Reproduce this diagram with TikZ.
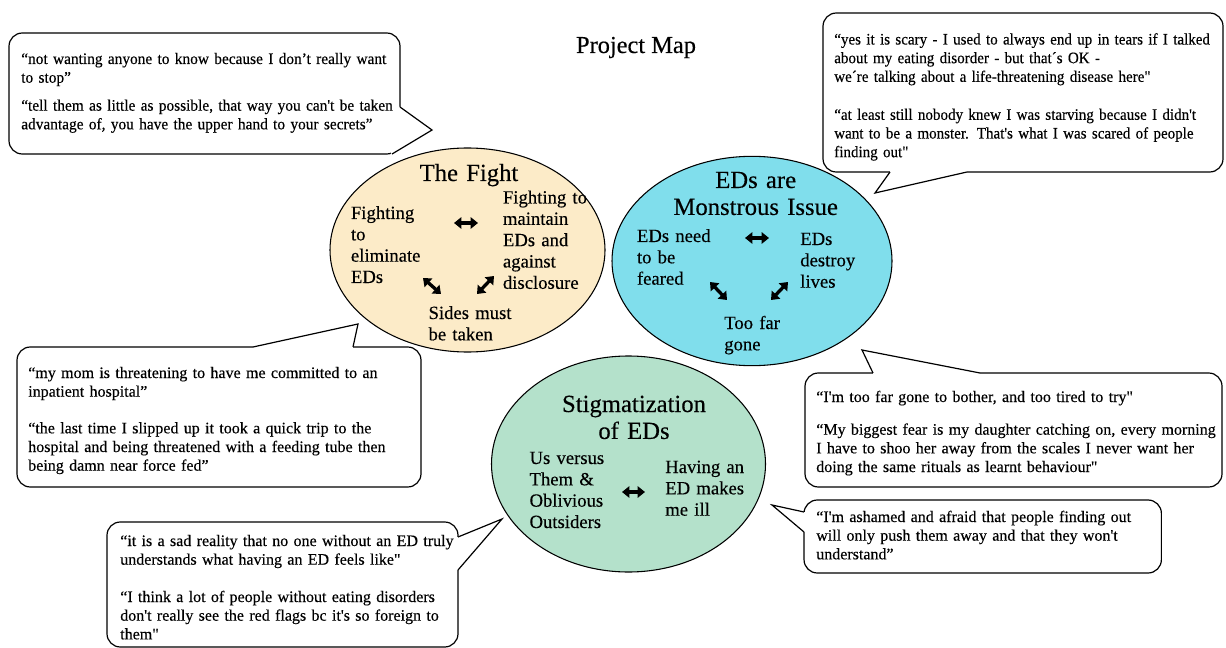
\documentclass[tikz,border=0pt]{standalone}
\usepackage{fontspec}
\setmainfont{Liberation Serif}[Ligatures=TeXOff,FakeBold=0.3]
\newfontfamily\narrowserif{Liberation Serif}[Ligatures=TeXOff,FakeBold=0.3,FakeStretch=0.94]
\newfontfamily\slimserif{Liberation Serif}[Ligatures=TeXOff,FakeBold=0.3,FakeStretch=0.96]
\usetikzlibrary{shapes.geometric,arrows.meta}
\definecolor{fightfill}{RGB}{252,235,200}
\definecolor{monsterfill}{RGB}{128,222,236}
\definecolor{stigmafill}{RGB}{180,225,203}
\begin{document}
\begin{tikzpicture}[x=0.75pt,y=-0.75pt,
  bubble/.style={draw=black, line width=0.9pt, fill=white, rounded corners=10pt, inner sep=0pt},
  quote/.style={anchor=base west, inner sep=0pt, align=left, text width=330pt, font=\fontsize{12}{14}\selectfont},
  blob/.style={ellipse, draw=black, line width=0.8pt, inner sep=0pt},
  theme/.style={anchor=base west, inner sep=0pt, align=left, text width=90pt, font=\fontsize{14}{16}\selectfont},
  head/.style={anchor=base, inner sep=0pt, align=center, text width=170pt, font=\fontsize{18.5}{20.2}\selectfont},
  dbl/.style={{Triangle[length=5.5pt,width=8.5pt]}-{Triangle[length=5.5pt,width=8.5pt]}, line width=2.5pt},
  tailside/.style={draw=black, line width=0.9pt, line join=miter},
  tailcover/.style={draw=white, line width=1.8pt},
]
\useasboundingbox (0,0) rectangle (1226,648);
\fill[white] (0,0) rectangle (1226,648);

% title
\node[anchor=base, inner sep=0pt, font=\fontsize{18.3}{20}\selectfont] (title) at (636,53) {Project Map};

% ellipses
\node[blob, fill=fightfill, minimum width=206.25pt, minimum height=153pt] (fight) at (467.5,250) {};
\node[blob, fill=monsterfill, minimum width=210pt, minimum height=157pt] (monster) at (752,261) {};
\node[blob, fill=stigmafill, minimum width=205.5pt, minimum height=162pt] (stigma) at (628.5,464) {};

% ellipse contents
\node[head] (fighthead) at (469,181) {The Fight};
\node[theme] (fightL) at (350.7,219) {Fighting\\to\\eliminate\\EDs};
\node[theme] (fightR) at (502.7,203.5) {Fighting to\\maintain\\EDs and\\against\\disclosure};
\node[theme] (fightB) at (428.3,319) {Sides must\\be taken};
\coordinate (fa1) at (454,223); \coordinate (fa2) at (478,223);
\coordinate (fb1) at (423,278); \coordinate (fb2) at (441,294);
\coordinate (fc1) at (477,294); \coordinate (fc2) at (494,276);
\draw[dbl] (fa1) -- (fa2);
\draw[dbl] (fb1) -- (fb2);
\draw[dbl] (fc1) -- (fc2);

\node[head] (monsterhead) at (755.7,188) {EDs are\\Monstrous Issue};
\node[theme] (monsterL) at (636.7,242) {EDs need\\to be\\feared};
\node[theme] (monsterR) at (800,245) {EDs\\destroy\\lives};
\node[theme] (monsterB) at (724,329) {Too far\\gone};
\coordinate (ma1) at (745,238); \coordinate (ma2) at (769,238);
\coordinate (mb1) at (710,282); \coordinate (mb2) at (727,300);
\coordinate (mc1) at (771,300); \coordinate (mc2) at (788,282);
\draw[dbl] (ma1) -- (ma2);
\draw[dbl] (mb1) -- (mb2);
\draw[dbl] (mc1) -- (mc2);

\node[head] (stigmahead) at (634,412) {Stigmatization\\of EDs};
\node[theme] (stigmaL) at (529.3,464) {Us versus\\Them \&\\Oblivious\\Outsiders};
\node[theme] (stigmaR) at (665,473) {Having an\\ED makes\\me ill};
\coordinate (sa1) at (622,492); \coordinate (sa2) at (645,492);
\draw[dbl] (sa1) -- (sa2);

% callout 1
\node[bubble, minimum width=293.25pt, minimum height=90.75pt] (c1) at (204.5,93.5) {};
\coordinate (c1a) at (400,107); \coordinate (c1t) at (432,130); \coordinate (c1b) at (392,154);
\fill[white] (c1a) -- (c1t) -- (c1b) -- cycle;
\draw[tailcover] (c1a) -- (c1b);
\draw[tailside] (c1a) -- (c1t) -- (c1b);
\node[quote, font=\slimserif\fontsize{12}{14}\selectfont] (q1) at (21,64) {“not wanting anyone to know because I don’t really want\\to stop”\\[7pt]“tell them as little as possible, that way you can't be taken\\advantage of, you have the upper hand to your secrets”};

% callout 2
\node[bubble, minimum width=300pt, minimum height=119.25pt] (c2) at (1023,92.5) {};
\coordinate (c2a) at (890,172); \coordinate (c2t) at (875,193); \coordinate (c2b) at (967,172);
\fill[white] (c2a) -- (c2t) -- (c2b) -- cycle;
\draw[tailcover] (c2a) -- (c2b);
\draw[tailside] (c2a) -- (c2t) -- (c2b);
\node[quote, font=\narrowserif\fontsize{12}{14}\selectfont] (q2) at (834,44.5) {“yes it is scary - I used to always end up in tears if I talked\\about my eating disorder - but that´s OK -\\we´re talking about a life-threatening disease here"\\[14.5pt]“at least still nobody knew I was starving because I didn't\\want to be a monster. That's what I was scared of people\\finding out"};

% callout 3
\node[bubble, minimum width=303pt, minimum height=105pt] (c3) at (219,417) {};
\coordinate (c3a) at (253,347); \coordinate (c3t) at (358,324); \coordinate (c3b) at (353,347);
\fill[white] (c3a) -- (c3t) -- (c3b) -- cycle;
\draw[tailcover] (c3a) -- (c3b);
\draw[tailside] (c3a) -- (c3t) -- (c3b);
\node[quote] (q3) at (28,378) {“my mom is threatening to have me committed to an\\inpatient hospital”\\[13.5pt]“the last time I slipped up it took a quick trip to the\\hospital and being threatened with a feeding tube then\\being damn near force fed”};

% callout 4
\node[bubble, minimum width=312.75pt, minimum height=85.5pt] (c4) at (1013.5,430) {};
\coordinate (c4a) at (873,373); \coordinate (c4t) at (862,350); \coordinate (c4b) at (980,373);
\fill[white] (c4a) -- (c4t) -- (c4b) -- cycle;
\draw[tailcover] (c4a) -- (c4b);
\draw[tailside] (c4a) -- (c4t) -- (c4b);
\node[quote] (q4) at (816,402) {“I'm too far gone to bother, and too tired to try"\\[10.5pt]“My biggest fear is my daughter catching on, every morning\\I have to shoo her away from the scales I never want her\\doing the same rituals as learnt behaviour"};

% callout 5
\node[bubble, minimum width=263.25pt, minimum height=93.75pt] (c5) at (282.5,584.5) {};
\coordinate (c5a) at (458,537); \coordinate (c5t) at (502,519); \coordinate (c5b) at (458,570);
\fill[white] (c5a) -- (c5t) -- (c5b) -- cycle;
\draw[tailcover] (c5a) -- (c5b);
\draw[tailside] (c5a) -- (c5t) -- (c5b);
\node[quote] (q5) at (120,546) {“it is a sad reality that no one without an ED truly\\understands what having an ED feels like"\\[14pt]“I think a lot of people without eating disorders\\don't really see the red flags bc it's so foreign to\\them"};

% callout 6
\node[bubble, minimum width=268pt, minimum height=54.75pt] (c6) at (982.7,536.5) {};
\coordinate (c6a) at (804,512); \coordinate (c6t) at (772,505); \coordinate (c6b) at (804,532);
\fill[white] (c6a) -- (c6t) -- (c6b) -- cycle;
\draw[tailcover] (c6a) -- (c6b);
\draw[tailside] (c6a) -- (c6t) -- (c6b);
\node[quote] (q6) at (816,522) {“I'm ashamed and afraid that people finding out\\will only push them away and that they won't\\understand”};
\end{tikzpicture}
\end{document}
